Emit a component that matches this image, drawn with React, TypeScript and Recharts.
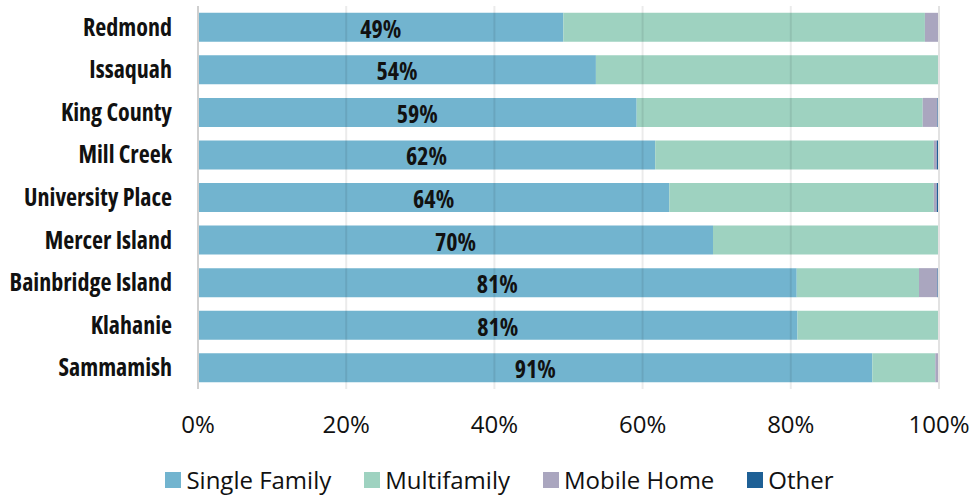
import { Bar, BarChart, LabelList, Legend, ReferenceLine, XAxis, YAxis } from "recharts";

const categories = [
  "Redmond",
  "Issaquah",
  "King County",
  "Mill Creek",
  "University Place",
  "Mercer Island",
  "Bainbridge Island",
  "Klahanie",
  "Sammamish",
];
const singleFamily = [49.3, 53.7, 59.2, 61.7, 63.6, 69.5, 80.8, 80.9, 91.0];
const multifamily = [48.8, 46.3, 38.6, 37.6, 35.7, 30.5, 16.5, 19.0, 8.5];
const mobileHome = [1.9, 0, 2.0, 0.4, 0.4, 0, 2.5, 0.1, 0.5];
const other = [0, 0, 0.2, 0.3, 0.3, 0, 0.2, 0, 0];
const xTicks = [0, 20, 40, 60, 80, 100];

const series = [
  { key: "sf", name: "Single Family", color: "#72b4cf" },
  { key: "mf", name: "Multifamily", color: "#9ed2c0" },
  { key: "mh", name: "Mobile Home", color: "#aaa6bf" },
  { key: "ot", name: "Other", color: "#1e6096" },
];

const data = categories.map((name, i) => ({
  name,
  sf: singleFamily[i],
  mf: multifamily[i],
  mh: mobileHome[i],
  ot: other[i],
}));

const FONT = "'Open Sans', 'Liberation Sans', sans-serif";

function LegendContent() {
  return (
    <div
      style={{
        display: "flex",
        justifyContent: "center",
        gap: 33,
        fontFamily: FONT,
        fontSize: 24,
        lineHeight: "30px",
        color: "#111",
        paddingLeft: 52,
        paddingTop: 6,
      }}
    >
      {series.map((s) => (
        <div key={s.key} style={{ display: "flex", alignItems: "center" }}>
          <span
            style={{
              display: "inline-block",
              width: 16,
              height: 16,
              background: s.color,
              marginRight: 5,
            }}
          />
          {s.name}
        </div>
      ))}
    </div>
  );
}

export default function App() {
  return (
    <div style={{ position: "absolute", left: 0, top: 0, background: "#fff" }}>
      <BarChart
        width={970}
        height={495}
        data={data}
        layout="vertical"
        barCategoryGap="16%"
        margin={{ top: 6, right: 31, bottom: 0, left: 8 }}
      >
        <XAxis
          type="number"
          domain={[0, 100]}
          ticks={xTicks}
          tickFormatter={(v: number) => `${v}%`}
          axisLine={false}
          tickLine={false}
          tickSize={0}
          tickMargin={27}
          height={70}
          interval={0}
          tick={{ fill: "#111", fontSize: 24, fontFamily: FONT }}
        />
        <YAxis
          type="category"
          dataKey="name"
          width={190}
          axisLine={{ stroke: "#cfcfcf", strokeWidth: 2 }}
          tickLine={false}
          tickSize={0}
          tickMargin={26}
          interval={0}
          tick={{
            fill: "#111",
            fontSize: 24,
            fontWeight: 700,
            fontFamily: FONT,
            fontStretch: "condensed",
          }}
        />
        <Legend verticalAlign="bottom" height={36} content={<LegendContent />} />
        {series.map((s) => (
          <Bar
            key={s.key}
            dataKey={s.key}
            name={s.name}
            stackId="a"
            fill={s.color}
            isAnimationActive={false}
          >
            {s.key === "sf" && (
              <LabelList
                dataKey="sf"
                position="center"
                formatter={(v: number) => `${Math.round(v)}%`}
                dy={2}
                style={{
                  fill: "#111",
                  fontSize: 24,
                  fontWeight: 700,
                  fontFamily: FONT,
                  fontStretch: "condensed",
                }}
              />
            )}
          </Bar>
        ))}
        {xTicks.slice(1).map((t) => (
          <ReferenceLine
            key={t}
            x={t}
            stroke={t === 100 ? "#e2e2e2" : "rgba(0,0,0,0.08)"}
            strokeWidth={2}
          />
        ))}
      </BarChart>
    </div>
  );
}
